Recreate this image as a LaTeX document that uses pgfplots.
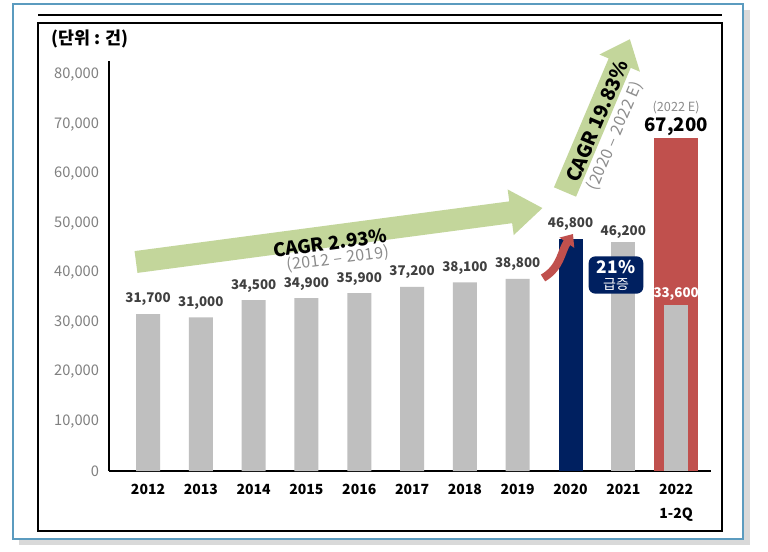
\documentclass[border=0pt]{standalone}
\usepackage{fontspec}
\setmainfont{Noto Sans CJK KR}
\usepackage{pgfplots}
\pgfplotsset{compat=1.18}
\usetikzlibrary{arrows.meta}
\definecolor{barGray}{HTML}{BFBFBF}
\definecolor{navy}{HTML}{002060}
\definecolor{barRed}{HTML}{C0504D}
\definecolor{arrowGreen}{HTML}{C3D69B}
\definecolor{frameBlue}{HTML}{5B9BBF}
\definecolor{shadowGray}{HTML}{D9D9D9}
\definecolor{tickGray}{HTML}{808080}
\definecolor{valGray}{HTML}{404040}
\definecolor{subGray}{HTML}{8C8C8C}
\begin{document}
\begin{tikzpicture}[x=0.75pt,y=0.75pt]
\useasboundingbox (0,0) rectangle (768,551);
\fill[shadowGray] (19,6) rectangle (750,541);
\filldraw[fill=white, draw=frameBlue, line width=1.1pt] (13,12) rectangle (743,547);
\draw[line width=0.8pt] (38,536) -- (722,536);
\draw[line width=1.6pt] (38,20) rectangle (722,528);
\node[anchor=west, font=\bfseries\fontsize{13}{15}\selectfont] at (47,512) {(단위 : 건)};
\coordinate (axisorigin) at (109,80);

\begin{axis}[
  at={(axisorigin)}, anchor=south west, scale only axis,
  width=451.5pt, height=307.5pt,
  xmin=-0.739, xmax=10.66, ymin=0, ymax=82800,
  axis x line*=bottom, axis y line*=left,
  axis line style={line width=1.9pt, black},
  ytick={0,10000,...,80000},
  xtick={0,...,10},
  xticklabels={2012,2013,2014,2015,2016,2017,2018,2019,2020,2021,{2022\\1-2Q}},
  major tick length=0,
  scaled y ticks=false,
  /pgf/number format/fixed,
  /pgf/number format/precision=0,
  /pgf/number format/1000 sep={,},
  /pgf/number format/assume math mode=true,
  yticklabel style={font=\fontsize{11}{13}\selectfont, text=tickGray, xshift=-4pt},
  xticklabel style={font=\bfseries\fontsize{10.5}{17.5}\selectfont, align=center, yshift=-6.5pt},
  clip=false,
]
% gray bars 2012-2019
\addplot[ybar, bar width=0.4545, bar shift=0pt, fill=barGray, draw=none,
  nodes near coords, every node near coord/.append style={font=\bfseries\fontsize{10}{12}\selectfont, text=valGray, yshift=2.5pt}]
  coordinates {(0,31700) (1,31000) (2,34500) (3,34900) (4,35900) (5,37200) (6,38100) (7,38800)};
% 2021
\addplot[ybar, bar width=0.4545, bar shift=0pt, fill=barGray, draw=none,
  nodes near coords, every node near coord/.append style={font=\bfseries\fontsize{10}{12}\selectfont, text=valGray, yshift=-1pt}]
  coordinates {(9,46200)};
% 2020
\addplot[ybar, bar width=0.4545, bar shift=0pt, fill=navy, draw=none,
  nodes near coords, every node near coord/.append style={font=\bfseries\fontsize{10}{12}\selectfont, text=valGray, yshift=3pt}]
  coordinates {(8,46800)};
% 2022 estimate
\addplot[ybar, bar width=0.833, bar shift=0pt, fill=barRed, draw=none,
  nodes near coords, every node near coord/.append style={font=\bfseries\fontsize{14}{16}\selectfont, text=black, yshift=-2pt,
    label={[label distance=-4pt, font=\fontsize{9.5}{11}\selectfont, text=subGray]north:(2022 E)}}]
  coordinates {(10,67200)};
% 2022 1-2Q
\addplot[ybar, bar width=0.4545, bar shift=0pt, fill=barGray, draw=none,
  nodes near coords, every node near coord/.append style={font=\bfseries\fontsize{10}{12}\selectfont, text=white, yshift=-0.5pt}]
  coordinates {(10,33600)};
\end{axis}

% green arrow 1
\begin{scope}[shift={(136,289)}, rotate=7.56]
\fill[arrowGreen] (0,-11) -- (378,-11) -- (378,-23) -- (410,0) -- (378,23) -- (378,11) -- (0,11) -- cycle;
\end{scope}
\node[rotate=7.56, font=\bfseries\fontsize{14}{16}\selectfont] at (330,308) {CAGR 2.93\%};
\node[rotate=7.56, font=\fontsize{12}{14}\selectfont\addfontfeatures{LetterSpace=4}, text=subGray] at (338,292) {(2012 – 2019)};

% green arrow 2
\begin{scope}[shift={(565,359)}, rotate=67]
\fill[arrowGreen] (0,-12) -- (140,-12) -- (140,-22) -- (166,0) -- (140,22) -- (140,12) -- (0,12) -- cycle;
\end{scope}
\node[rotate=67, font=\bfseries\fontsize{14.5}{16}\selectfont] at (597,430) {CAGR 19.83\%};
\node[rotate=67, font=\fontsize{12}{14}\selectfont\addfontfeatures{LetterSpace=3}, text=subGray] at (615,415) {(2020 – 2022 E)};

% red curved arrow
\draw[barRed, line width=6pt, -{Triangle[width=13pt,length=8pt]}] (543,273) to[out=30, in=235] (573,317);

% 21% box
\node[fill=navy, rounded corners=5pt, minimum width=41pt, minimum height=28pt, inner sep=0pt, align=center, text=white] at (616,276)
  {{\bfseries\fontsize{13}{14}\selectfont 21\%}\\{\fontsize{10.5}{12}\selectfont 급증}};
\end{tikzpicture}
\end{document}
